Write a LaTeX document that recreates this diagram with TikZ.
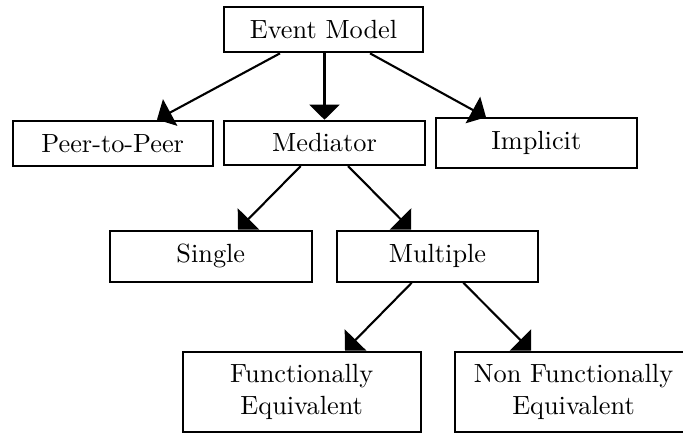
\documentclass[tikz,border=0pt]{standalone}
\usetikzlibrary{arrows.meta,calc}
\begin{document}
\begin{tikzpicture}[x=0.38pt,y=-0.38pt,
  box/.style={draw,line width=0.8pt,fill=white,inner sep=0pt,align=center,font=\fontsize{10}{12.4}\selectfont},
  arr/.style={line width=0.8pt,-{Triangle[length=5.7pt,width=11.4pt]}}]
\useasboundingbox (0,0) rectangle (683,435);
\clip (0,0) rectangle (683,435);

% taxonomy boxes
\node[box,minimum width=75.4pt,minimum height=17.1pt] (em)     at (323.5,29.8)  {Event Model};
\node[box,minimum width=76pt,  minimum height=17.2pt] (peer)   at (112.7,143.3) {Peer-to-Peer};
\node[box,minimum width=76.4pt,minimum height=16.8pt] (med)    at (324.5,142.9) {Mediator};
\node[box,minimum width=76.3pt,minimum height=19pt]   (impl)   at (536.3,143.3) {Implicit};
\node[box,minimum width=76.6pt,minimum height=19.4pt] (single) at (210.8,256.2) {Single};
\node[box,minimum width=76.6pt,minimum height=19.4pt] (multi)  at (437.5,256.2) {Multiple};
\node[box,minimum width=90.4pt,minimum height=30.5pt] (func)   at (301.7,391.8) {Functionally\\Equivalent};
\node[box,minimum width=90.4pt,minimum height=30.5pt] (nonf)   at (573.5,391.8) {Non Functionally\\Equivalent};

% connectors
\draw[arr] ($(em.south)+(-43.5,0)$) -- ($(peer.north)+(44.3,0)$);
\draw[arr] (em.south -| med.north) -- (med.north);
\draw[arr] ($(em.south)+(46.5,0)$) -- ($(impl.north)+(-50.3,0)$);
\draw[arr] ($(med.south)+(-23.8,0)$) -- ($(single.north)+(27.2,0)$);
\draw[arr] ($(med.south)+(23.5,0)$) -- ($(multi.north)+(-26.5,0)$);
\draw[arr] ($(multi.south)+(-25.8,0)$) -- ($(func.north)+(43.3,0)$);
\draw[arr] ($(multi.south)+(25.8,0)$) -- ($(nonf.north)+(-42.5,0)$);
\end{tikzpicture}
\end{document}
